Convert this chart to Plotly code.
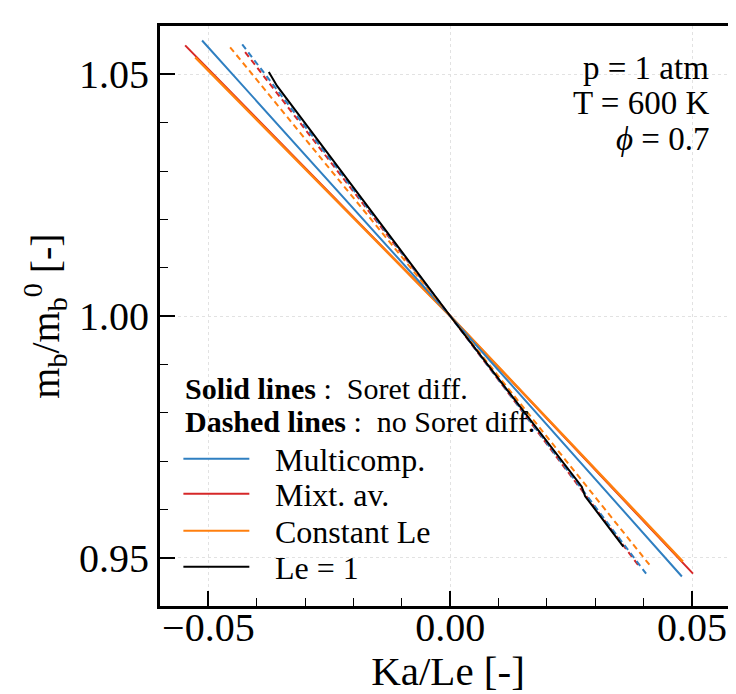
import plotly.graph_objects as go

# ---- data ----
multi_solid_x = [-0.0513, 0.0, 0.0479]
multi_solid_y = [1.0570, 1.0, 0.9461]
mixt_solid_x = [-0.0548, 0.0, 0.0502]
mixt_solid_y = [1.0560, 1.0, 0.9467]
const_solid_x = [-0.0527, 0.0, 0.0481]
const_solid_y = [1.0535, 1.0, 0.9492]
multi_dash_x = [-0.0430, 0.0, 0.0405]
multi_dash_y = [1.0562, 1.0, 0.9467]
mixt_dash_x = [-0.0424, 0.0, 0.0393]
mixt_dash_y = [1.0546, 1.0, 0.9479]
const_dash_x = [-0.0455, 0.0, 0.0417]
const_dash_y = [1.0556, 1.0, 0.9479]
le1_x = [-0.0375, -0.0361, -0.0358, 0.0, 0.0227, 0.0272, 0.0279, 0.0358]
le1_y = [1.0505, 1.0480, 1.0476, 1.0, 0.9706, 0.9647, 0.9627, 0.9523]

legend_labels = ["Multicomp.", "Mixt. av.", "Constant Le", "Le = 1"]
conditions = ["p = 1 atm", "T = 600 K", "<i>\u03d5</i> = 0.7"]
x_ticks = [-0.05, 0.0, 0.05]
y_ticks = [0.95, 1.00, 1.05]

BLUE = "#2f7fc1"
RED = "#d62728"
ORANGE = "#ff7f0e"
BLACK = "#000000"
FONT = "Liberation Serif"

OFF = 8  # default body margin of the page
W, H = 736 - OFF, 694 - OFF
L, T, B = 159.6 - OFF, 25.6 - OFF, 87.6
PW = W - L
PH = H - T - B


def px2paper_x(px):
    return (px - OFF - L) / PW


def px2paper_y(py):
    return (H - B - (py - OFF)) / PH


fig = go.Figure()

def add(x, y, color, dash="solid", width=2):
    fig.add_trace(go.Scatter(x=x, y=y, mode="lines", showlegend=False,
                             line=dict(color=color, width=width, dash=dash)))

add(mixt_solid_x, mixt_solid_y, RED)
add(const_solid_x, const_solid_y, ORANGE, width=2.5)
add(multi_solid_x, multi_solid_y, BLUE)
add(mixt_dash_x, mixt_dash_y, RED, dash="6px,4px")
add(const_dash_x, const_dash_y, ORANGE, dash="6px,4px")
add(multi_dash_x, multi_dash_y, BLUE, dash="6px,4px")
add(le1_x, le1_y, BLACK)

annotations = []
# conditions box (top right)
for txt, py in zip(conditions, [68, 103, 139]):
    annotations.append(dict(x=px2paper_x(711), y=px2paper_y(py), xref="paper", yref="paper",
                            text=txt, showarrow=False, xanchor="right", yanchor="middle",
                            font=dict(family=FONT, size=33, color="black")))

# manual legend
annotations.append(dict(x=px2paper_x(183), y=px2paper_y(389), xref="paper", yref="paper",
                        text="<b>Solid lines</b> :  Soret diff.", showarrow=False,
                        xanchor="left", yanchor="middle",
                        font=dict(family=FONT, size=30, color="black")))
annotations.append(dict(x=px2paper_x(183), y=px2paper_y(422), xref="paper", yref="paper",
                        text="<b>Dashed lines</b> :  no Soret diff.", showarrow=False,
                        xanchor="left", yanchor="middle",
                        font=dict(family=FONT, size=30, color="black")))
shapes = []
for lab, col, py in zip(legend_labels, [BLUE, RED, ORANGE, BLACK], [459, 494, 531, 567]):
    shapes.append(dict(type="line", xref="paper", yref="paper",
                       x0=px2paper_x(183), x1=px2paper_x(249), y0=px2paper_y(py), y1=px2paper_y(py),
                       line=dict(color=col, width=2)))
    annotations.append(dict(x=px2paper_x(273), y=px2paper_y(py + 1), xref="paper", yref="paper",
                            text=lab, showarrow=False, xanchor="left", yanchor="middle",
                            font=dict(family=FONT, size=32, color="black")))

x_max = -0.06 + PW / 4840.0

fig.update_layout(
    width=W, height=H,
    margin=dict(l=L, r=0, t=T, b=B, pad=0),
    paper_bgcolor="white", plot_bgcolor="white",
    font=dict(family=FONT, color="black"),
    annotations=annotations, shapes=shapes,
    xaxis=dict(range=[-0.06, x_max], tickvals=x_ticks, tickformat=".2f",
               ticks="inside", ticklen=15, tickwidth=2, tickcolor="black",
               minor=dict(ticks="inside", ticklen=8, tickwidth=1.2, dtick=0.01, tick0=0,
                          tickcolor="black", showgrid=False),
               showline=True, linewidth=3, linecolor="black", mirror=True,
               showgrid=True, gridcolor="#e2e2e2", gridwidth=1, griddash="dot",
               zeroline=False, tickfont=dict(size=40, family=FONT),
               ticklabelstandoff=-16,
               title=dict(text="Ka/Le [-]", font=dict(size=41, family=FONT), standoff=0),
               automargin=False),
    yaxis=dict(range=[0.94, 1.06], tickvals=y_ticks, tickformat=".2f",
               ticks="inside", ticklen=15, tickwidth=2, tickcolor="black",
               minor=dict(ticks="inside", ticklen=8, tickwidth=1.2, dtick=0.01, tick0=0,
                          tickcolor="black", showgrid=False),
               showline=True, linewidth=3, linecolor="black", mirror=False,
               showgrid=True, gridcolor="#e2e2e2", gridwidth=1, griddash="dot",
               zeroline=False, tickfont=dict(size=40, family=FONT),
               title=dict(text="m<sub>b</sub>/m<sub>b</sub><sup>0</sup> [-]",
                          font=dict(size=40, family=FONT), standoff=8),
               automargin=False),
)

fig.write_html("out.html")
